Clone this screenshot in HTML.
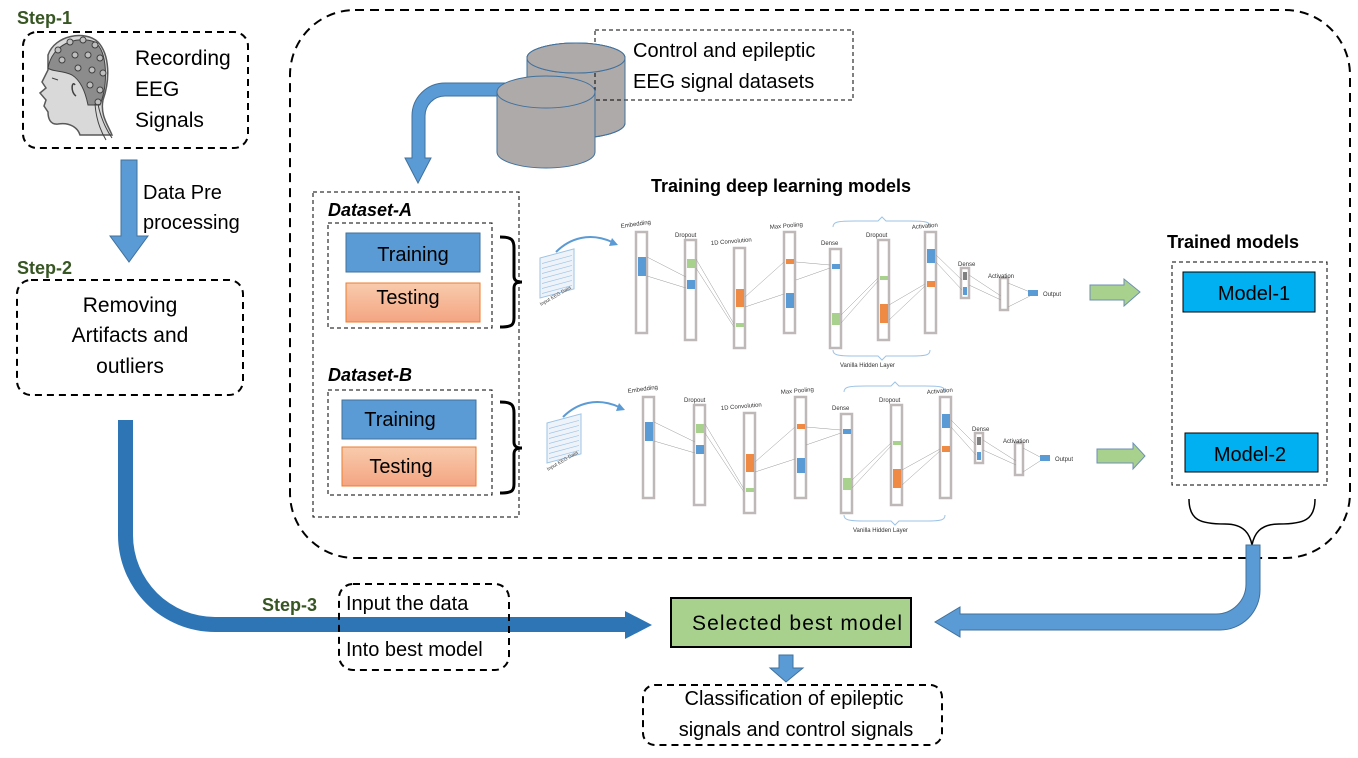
<!DOCTYPE html>
<html><head><meta charset="utf-8"><style>
html,body{margin:0;padding:0;background:#fff;}
svg{display:block;font-family:"Liberation Sans",sans-serif;}
</style></head><body>
<svg width="1358" height="758" viewBox="0 0 1358 758" xmlns="http://www.w3.org/2000/svg">
<rect width="1358" height="758" fill="#fff"/>

<!-- Big dashed container -->
<rect x="290" y="10" width="1060" height="548" rx="65" fill="none" stroke="#000" stroke-width="2" stroke-dasharray="9,6"/>

<!-- Step 1 -->
<text x="17" y="24" font-size="18" font-weight="bold" fill="#375623">Step-1</text>
<rect x="23" y="32" width="225" height="116" rx="14" fill="none" stroke="#000" stroke-width="2" stroke-dasharray="7,5"/>
<!-- head -->
<g>
  <path d="M48,55 C55,35 85,30 98,42 C110,55 110,80 103,100 C100,115 108,125 112,135 L80,135 C78,128 70,122 58,124 C50,125 48,118 48,112 L44,106 L46,100 L40,93 L46,88 L42,82 L48,70 Z" fill="#d9d9d9" stroke="#595959" stroke-width="1.5"/>
  <path d="M48,68 C52,45 75,35 95,42 C108,52 108,85 100,105 L88,105 C85,90 80,80 72,75 C62,70 52,72 48,68 Z" fill="#8c8c8c" stroke="#404040" stroke-width="1"/>
  <g fill="#bfbfbf" stroke="#404040" stroke-width="1">
    <circle cx="58" cy="50" r="3"/><circle cx="70" cy="42" r="3"/><circle cx="83" cy="40" r="3"/><circle cx="95" cy="45" r="3"/>
    <circle cx="62" cy="60" r="3"/><circle cx="75" cy="55" r="3"/><circle cx="88" cy="55" r="3"/><circle cx="100" cy="58" r="3"/>
    <circle cx="78" cy="68" r="3"/><circle cx="92" cy="70" r="3"/><circle cx="103" cy="73" r="3"/>
    <circle cx="90" cy="85" r="3"/><circle cx="100" cy="90" r="3"/><circle cx="98" cy="102" r="3"/>
  </g>
  <path d="M75,85 C72,80 70,92 76,96" fill="none" stroke="#404040" stroke-width="1.5"/>
  <path d="M98,104 C100,115 105,128 112,138 M95,104 C96,118 100,130 106,140" fill="none" stroke="#404040" stroke-width="1"/>
  <path d="M52,78 L58,80" stroke="#404040" stroke-width="1"/>
</g>
<g font-size="21" fill="#000">
<text x="135" y="65">Recording</text>
<text x="135" y="96">EEG</text>
<text x="135" y="127">Signals</text>
</g>

<!-- Data pre-processing arrow -->
<path d="M121,160 L137,160 L137,236 L148,236 L129,262 L110,236 L121,236 Z" fill="#5b9bd5" stroke="#41719c" stroke-width="1"/>
<text x="143" y="199" font-size="20">Data Pre</text>
<text x="143" y="229" font-size="20">processing</text>

<!-- Step 2 -->
<text x="17" y="274" font-size="18" font-weight="bold" fill="#375623">Step-2</text>
<rect x="17" y="280" width="226" height="115" rx="14" fill="none" stroke="#000" stroke-width="2" stroke-dasharray="7,5"/>
<g font-size="21" text-anchor="middle">
<text x="130" y="312">Removing</text>
<text x="130" y="342">Artifacts and</text>
<text x="130" y="373">outliers</text>
</g>

<!-- big blue L arrow -->
<path d="M118,420 L133,420 L133,535 A82,82 0 0 0 215,617 L625,617 L625,611 L652,625 L625,639 L625,632 L215,632 A97,97 0 0 1 118,535 Z" fill="#2e75b6"/>

<!-- Step 3 -->
<text x="262" y="611" font-size="18" font-weight="bold" fill="#375623">Step-3</text>
<rect x="339" y="584" width="170" height="86" rx="14" fill="none" stroke="#000" stroke-width="2" stroke-dasharray="7,5"/>
<text x="346" y="610" font-size="20">Input the data</text>
<text x="346" y="656" font-size="20">Into best model</text>

<!-- cylinders -->
<path d="M527,58 L527,123 A49,15 0 0 0 625,123 L625,58 Z" fill="#aeaaaa" stroke="#41719c" stroke-width="1"/>
<ellipse cx="576" cy="58" rx="49" ry="15" fill="#aeaaaa" stroke="#41719c" stroke-width="1"/>
<rect x="595" y="30" width="258" height="70" fill="none" stroke="#000" stroke-width="1" stroke-dasharray="4,3"/>
<rect x="597" y="31" width="26" height="12" fill="#fff"/>
<path d="M527,58 L527,123 A49,15 0 0 0 625,123 L625,58 A49,15 0 0 0 527,58 Z" fill="none" stroke="#41719c" stroke-width="1"/>
<ellipse cx="576" cy="58" rx="49" ry="15" fill="#aeaaaa" stroke="#41719c" stroke-width="1"/>
<!-- curved arrow -->
<path d="M505,83 L445,83 A33,33 0 0 0 412,116 L412,158 L405,158 L418,183 L431,158 L425,158 L425,116 A20,20 0 0 1 445,96 L505,96 Z" fill="#5b9bd5" stroke="#41719c" stroke-width="1"/>
<path d="M497,92 L497,152 A49,16 0 0 0 595,152 L595,92 Z" fill="#aeaaaa" stroke="#41719c" stroke-width="1"/>
<ellipse cx="546" cy="92" rx="49" ry="16" fill="#aeaaaa" stroke="#41719c" stroke-width="1"/>
<text x="633" y="57" font-size="20">Control and epileptic</text>
<text x="633" y="88" font-size="20">EEG signal datasets</text>

<!-- Title -->
<text x="651" y="192" font-size="18" font-weight="bold">Training deep learning models</text>

<!-- Datasets -->
<rect x="313" y="192" width="206" height="325" fill="none" stroke="#000" stroke-width="1" stroke-dasharray="4,3"/>
<text x="328" y="216" font-size="18" font-weight="bold" font-style="italic">Dataset-A</text>
<rect x="328" y="223" width="164" height="105" fill="none" stroke="#000" stroke-width="1" stroke-dasharray="4,3"/>
<rect x="346" y="233" width="134" height="39" fill="#5b9bd5" stroke="#41719c"/>
<text x="413" y="261" font-size="20" text-anchor="middle">Training</text>
<defs><linearGradient id="og" x1="0" y1="0" x2="0" y2="1"><stop offset="0" stop-color="#f8cbad"/><stop offset="1" stop-color="#f4a582"/></linearGradient></defs>
<rect x="346" y="283" width="134" height="39" fill="url(#og)" stroke="#ed7d31"/>
<text x="408" y="304" font-size="20" text-anchor="middle">Testing</text>
<path d="M500,237 C512,237 514,240 514,248 L514,276 C514,280 516,282 522,282 C516,282 514,284 514,288 L514,318 C514,325 512,327 500,327" fill="none" stroke="#000" stroke-width="3"/>

<text x="328" y="381" font-size="18" font-weight="bold" font-style="italic">Dataset-B</text>
<rect x="328" y="390" width="164" height="105" fill="none" stroke="#000" stroke-width="1" stroke-dasharray="4,3"/>
<rect x="342" y="400" width="134" height="39" fill="#5b9bd5" stroke="#41719c"/>
<text x="400" y="426" font-size="20" text-anchor="middle">Training</text>
<rect x="342" y="447" width="134" height="39" fill="url(#og)" stroke="#ed7d31"/>
<text x="401" y="473" font-size="20" text-anchor="middle">Testing</text>
<path d="M500,402 C512,402 514,405 514,413 L514,442 C514,446 516,448 522,448 C516,448 514,450 514,454 L514,484 C514,491 512,493 500,493" fill="none" stroke="#000" stroke-width="3"/>

<!-- Network A -->
<g id="netA">
  <g transform="translate(540,258) skewY(-15)"><rect x="0" y="0" width="34" height="40" fill="#eef3fa" stroke="#9dc3e6"/>
  <path d="M2,6 H32 M2,11 H32 M2,16 H32 M2,21 H32 M2,26 H32 M2,31 H32 M2,36 H32" stroke="#9dc3e6" stroke-width="0.7"/></g>
  <path d="M556,252 C570,238 590,232 612,242" fill="none" stroke="#5b9bd5" stroke-width="2"/>
  <path d="M612,238 L618,245 L609,246 Z" fill="#5b9bd5"/>
  <text x="541" y="306" font-size="5" transform="rotate(-30 541 306)" fill="#444">Input EEG Data</text>
  <g fill="#fff" stroke="#bfb8b8" stroke-width="2.5">
    <rect x="636" y="232" width="11" height="101"/>
    <rect x="685" y="240" width="11" height="100"/>
    <rect x="734" y="248" width="11" height="100"/>
    <rect x="784" y="232" width="11" height="101"/>
    <rect x="830" y="249" width="11" height="99"/>
    <rect x="878" y="240" width="11" height="100"/>
    <rect x="925" y="232" width="11" height="101"/>
    <rect x="961" y="268" width="8" height="30"/>
    <rect x="1000" y="278" width="8" height="32"/>
  </g>
  <g stroke="#999" stroke-width="0.5">
    <path d="M647,257 L686,277 M647,276 L686,288 M696,259 L734,324 M696,268 L734,327 M745,297 L784,262 M745,307 L784,294 M796,262 L830,265 M796,280 L830,268 M841,315 L878,278 M841,323 L878,281 M889,305 L925,284 M889,320 L925,286 M936,255 L962,280 M936,262 L962,290 M969,285 L1001,300 M969,275 L1001,296 M1008,283 L1030,292 M1008,307 L1030,296"/>
  </g>
  <g>
    <rect x="638" y="257" width="8" height="19" fill="#5b9bd5"/>
    <rect x="687" y="259" width="8" height="9" fill="#a9d18e"/>
    <rect x="687" y="280" width="8" height="9" fill="#5b9bd5"/>
    <rect x="736" y="289" width="8" height="18" fill="#ed7d31" opacity="0.9"/>
    <rect x="736" y="323" width="8" height="4" fill="#a9d18e"/>
    <rect x="786" y="259" width="8" height="5" fill="#ed7d31" opacity="0.9"/>
    <rect x="786" y="293" width="8" height="15" fill="#5b9bd5"/>
    <rect x="832" y="264" width="8" height="5" fill="#5b9bd5"/>
    <rect x="832" y="313" width="8" height="12" fill="#a9d18e"/>
    <rect x="880" y="276" width="8" height="4" fill="#a9d18e"/>
    <rect x="880" y="304" width="8" height="19" fill="#ed7d31" opacity="0.9"/>
    <rect x="927" y="249" width="8" height="14" fill="#5b9bd5"/>
    <rect x="927" y="281" width="8" height="6" fill="#ed7d31" opacity="0.9"/>
    <rect x="963" y="272" width="4" height="8" fill="#808080"/>
    <rect x="963" y="287" width="4" height="8" fill="#5b9bd5"/>
    <rect x="1028" y="290" width="10" height="6" fill="#5b9bd5"/>
  </g>
  <path d="M833,227 C833,222 837,221 855,221 L878,221 L882,217 L886,221 L910,221 C927,221 930,222 930,227" fill="none" stroke="#9dc3e6" stroke-width="1"/>
  <path d="M833,350 C833,355 837,356 855,356 L878,356 L882,360 L886,356 L910,356 C927,356 930,355 930,350" fill="none" stroke="#9dc3e6" stroke-width="1"/>
  <g font-size="6" fill="#333">
    <text x="621" y="228" transform="rotate(-8 621 228)">Embedding</text>
    <text x="675" y="237">Dropout</text>
    <text x="711" y="245" transform="rotate(-5 711 245)">1D Convolution</text>
    <text x="770" y="229" transform="rotate(-5 770 229)">Max Pooling</text>
    <text x="821" y="245">Dense</text>
    <text x="866" y="237">Dropout</text>
    <text x="912" y="229" transform="rotate(-5 912 229)">Activation</text>
    <text x="958" y="266">Dense</text>
    <text x="988" y="278">Activation</text>
    <text x="1043" y="296">Output</text>
    <text x="840" y="367">Vanilla Hidden Layer</text>
  </g>
</g>
<!-- Network B -->
<g transform="translate(7,165)">
  <g transform="translate(540,258) skewY(-15)"><rect x="0" y="0" width="34" height="40" fill="#eef3fa" stroke="#9dc3e6"/>
  <path d="M2,6 H32 M2,11 H32 M2,16 H32 M2,21 H32 M2,26 H32 M2,31 H32 M2,36 H32" stroke="#9dc3e6" stroke-width="0.7"/></g>
  <path d="M556,252 C570,238 590,232 612,242" fill="none" stroke="#5b9bd5" stroke-width="2"/>
  <path d="M612,238 L618,245 L609,246 Z" fill="#5b9bd5"/>
  <text x="541" y="306" font-size="5" transform="rotate(-30 541 306)" fill="#444">Input EEG Data</text>
  <g fill="#fff" stroke="#bfb8b8" stroke-width="2.5">
    <rect x="636" y="232" width="11" height="101"/>
    <rect x="687" y="240" width="11" height="100"/>
    <rect x="737" y="248" width="11" height="100"/>
    <rect x="788" y="232" width="11" height="101"/>
    <rect x="834" y="249" width="11" height="99"/>
    <rect x="884" y="240" width="11" height="100"/>
    <rect x="933" y="232" width="11" height="101"/>
    <rect x="968" y="268" width="8" height="30"/>
    <rect x="1008" y="278" width="8" height="32"/>
  </g>
  <g stroke="#999" stroke-width="0.5">
    <path d="M647,257 L688,277 M647,276 L688,288 M698,259 L737,324 M698,268 L737,327 M748,297 L788,262 M748,307 L788,294 M799,262 L834,265 M799,280 L834,268 M845,315 L884,278 M845,323 L884,281 M895,305 L933,284 M895,320 L933,286 M944,255 L969,280 M944,262 L969,290 M976,285 L1009,300 M976,275 L1009,296 M1016,283 L1033,292 M1016,307 L1033,296"/>
  </g>
  <g>
    <rect x="638" y="257" width="8" height="19" fill="#5b9bd5"/>
    <rect x="689" y="259" width="8" height="9" fill="#a9d18e"/>
    <rect x="689" y="280" width="8" height="9" fill="#5b9bd5"/>
    <rect x="739" y="289" width="8" height="18" fill="#ed7d31" opacity="0.9"/>
    <rect x="739" y="323" width="8" height="4" fill="#a9d18e"/>
    <rect x="790" y="259" width="8" height="5" fill="#ed7d31" opacity="0.9"/>
    <rect x="790" y="293" width="8" height="15" fill="#5b9bd5"/>
    <rect x="836" y="264" width="8" height="5" fill="#5b9bd5"/>
    <rect x="836" y="313" width="8" height="12" fill="#a9d18e"/>
    <rect x="886" y="276" width="8" height="4" fill="#a9d18e"/>
    <rect x="886" y="304" width="8" height="19" fill="#ed7d31" opacity="0.9"/>
    <rect x="935" y="249" width="8" height="14" fill="#5b9bd5"/>
    <rect x="935" y="281" width="8" height="6" fill="#ed7d31" opacity="0.9"/>
    <rect x="970" y="272" width="4" height="8" fill="#808080"/>
    <rect x="970" y="287" width="4" height="8" fill="#5b9bd5"/>
    <rect x="1033" y="290" width="10" height="6" fill="#5b9bd5"/>
  </g>
  <path d="M837,227 C837,222 841,221 859,221 L884,221 L888,217 L892,221 L918,221 C935,221 938,222 938,227" fill="none" stroke="#9dc3e6" stroke-width="1"/>
  <path d="M837,350 C837,355 841,356 859,356 L884,356 L888,360 L892,356 L918,356 C935,356 938,355 938,350" fill="none" stroke="#9dc3e6" stroke-width="1"/>
  <g font-size="6" fill="#333">
    <text x="621" y="228" transform="rotate(-8 621 228)">Embedding</text>
    <text x="677" y="237">Dropout</text>
    <text x="714" y="245" transform="rotate(-5 714 245)">1D Convolution</text>
    <text x="774" y="229" transform="rotate(-5 774 229)">Max Pooling</text>
    <text x="825" y="245">Dense</text>
    <text x="872" y="237">Dropout</text>
    <text x="920" y="229" transform="rotate(-5 920 229)">Activation</text>
    <text x="965" y="266">Dense</text>
    <text x="996" y="278">Activation</text>
    <text x="1048" y="296">Output</text>
    <text x="846" y="367">Vanilla Hidden Layer</text>
  </g>
</g>

<!-- green arrows -->
<path d="M1090,285 L1124,285 L1124,279 L1140,292 L1124,306 L1124,300 L1090,300 Z" fill="#a9d18e" stroke="#6d8fb5" stroke-width="1"/>
<path d="M1097,449 L1133,449 L1133,443 L1145,456 L1133,469 L1133,463 L1097,463 Z" fill="#a9d18e" stroke="#6d8fb5" stroke-width="1"/>

<!-- Trained models -->
<text x="1167" y="248" font-size="18" font-weight="bold">Trained models</text>
<rect x="1172" y="262" width="155" height="223" fill="none" stroke="#000" stroke-width="1" stroke-dasharray="4,3"/>
<rect x="1183" y="272" width="132" height="40" fill="#00b0f0" stroke="#000" stroke-width="1"/>
<text x="1254" y="300" font-size="20" text-anchor="middle">Model-1</text>
<rect x="1185" y="433" width="133" height="39" fill="#00b0f0" stroke="#000" stroke-width="1"/>
<text x="1250" y="461" font-size="20" text-anchor="middle">Model-2</text>
<path d="M1189,499 C1189,520 1200,524 1225,524 C1245,524 1250,535 1252,545 C1254,535 1259,524 1279,524 C1304,524 1315,520 1315,499" fill="none" stroke="#000" stroke-width="1.5"/>

<!-- right blue connector -->
<path d="M1246,545 L1260,545 L1260,590 A40,40 0 0 1 1220,630 L960,630 L960,637 L935,622 L960,607 L960,614 L1216,614 A30,30 0 0 0 1246,584 Z" fill="#5b9bd5" stroke="#41719c" stroke-width="1"/>

<!-- Selected best model -->
<rect x="671" y="598" width="240" height="49" fill="#a9d18e" stroke="#000" stroke-width="2"/>
<text x="692" y="630" font-size="21" textLength="210">Selected best model</text>
<path d="M779,655 L793,655 L793,668 L803,668 L786,682 L770,668 L779,668 Z" fill="#5b9bd5" stroke="#41719c" stroke-width="1"/>
<rect x="643" y="685" width="299" height="60" rx="12" fill="none" stroke="#000" stroke-width="2" stroke-dasharray="7,5"/>
<text x="794" y="705" font-size="20" text-anchor="middle">Classification of epileptic</text>
<text x="796" y="736" font-size="20" text-anchor="middle">signals and control signals</text>
</svg>
</body></html>
